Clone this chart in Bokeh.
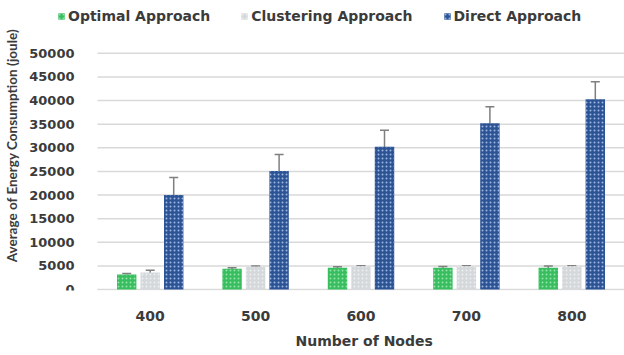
from bokeh.plotting import figure
from bokeh.models import (ColumnDataSource, Whisker, TeeHead, Legend, LegendItem,
                          Range1d, FixedTicker, Title)
from bokeh.transform import dodge
from bokeh.embed import file_html
from bokeh.resources import INLINE

# Average energy consumption per network size
nodes = ["400", "500", "600", "700", "800"]
optimal = [3200, 4400, 4600, 4600, 4600]
optimal_err = [200, 200, 200, 250, 350]
clustering = [3600, 4800, 4900, 4900, 4900]
clustering_err = [500, 200, 150, 150, 150]
direct = [20000, 25100, 30200, 35200, 40300]
direct_err = [3700, 3500, 3500, 3500, 3700]
y_ticks = list(range(0, 50001, 5000))

TEXT = "#3b3b3b"
FONT = "DejaVu Sans"
GRID = "#d9d9d9"

idx = list(range(len(nodes)))
src = ColumnDataSource(dict(
    idx=idx,
    opt=optimal, opt_lo=[v - e for v, e in zip(optimal, optimal_err)], opt_hi=[v + e for v, e in zip(optimal, optimal_err)],
    clu=clustering, clu_lo=[v - e for v, e in zip(clustering, clustering_err)], clu_hi=[v + e for v, e in zip(clustering, clustering_err)],
    dir=direct, dir_lo=[v - e for v, e in zip(direct, direct_err)], dir_hi=[v + e for v, e in zip(direct, direct_err)],
))

# canvas geometry: the plotting frame covers the whole width and reaches the top,
# so the legend can sit in the upper band; bars occupy the part right of LEFT_PX
W, H = 624, 355
LEFT_PX, TOP_PX, BOTTOM_PX, ZERO_PX = 97, 53, 64, 290
cat_px = (W - LEFT_PX) / len(nodes)
x_start = -0.5 - LEFT_PX / cat_px
x_end = len(nodes) - 0.5
frame_h = H - BOTTOM_PX
y_max = y_ticks[-1]
upp = y_max / (ZERO_PX - TOP_PX)
y_start = -(frame_h - ZERO_PX) * upp
y_end = y_max + TOP_PX * upp

p = figure(width=W, height=H, x_range=Range1d(x_start, x_end), y_range=Range1d(y_start, y_end),
           output_backend="svg", toolbar_location=None,
           min_border_left=0, min_border_right=0, min_border_top=0, min_border_bottom=BOTTOM_PX)
p.outline_line_color = None
p.xgrid.visible = False
p.ygrid.visible = False

# horizontal gridlines across the category area only
p.segment(x0=[idx[0] - 0.5] * len(y_ticks), x1=[idx[-1] + 0.5] * len(y_ticks),
          y0=y_ticks, y1=y_ticks, line_color=GRID, line_width=1.5, level="underlay")

off = 0.223
bw = 0.184
series = [
    ("opt", -off, "#38bd5f", "#93e2aa", "Optimal Approach"),
    ("clu", 0.0, "#d5d8db", "#eceef0", "Clustering Approach"),
    ("dir", off, "#2c5394", "#9db5e0", "Direct Approach"),
]
items = []
for key, dx, fill, hatch, label in series:
    r = p.vbar(x=dodge("idx", dx), top=key, width=bw, source=src,
               fill_color=fill, line_color=None, hatch_pattern="dot",
               hatch_color=hatch, hatch_scale=4, hatch_weight=3)
    items.append(LegendItem(label=label, renderers=[r]))

for key, dx, _, _, _ in series:
    w = Whisker(base=dodge("idx", dx), lower=f"{key}_lo", upper=f"{key}_hi",
                source=src, line_color="#7f7f7f", line_width=1.5,
                upper_head=TeeHead(size=9, line_color="#7f7f7f", line_width=1.5),
                lower_head=TeeHead(size=9, line_color="#7f7f7f", line_width=1.0, line_alpha=0.35))
    p.add_layout(w)

for ax in (p.xaxis[0], p.yaxis[0]):
    ax.major_tick_line_color = None
    ax.minor_tick_line_color = None
    ax.axis_line_color = None
    ax.major_label_text_font = FONT
    ax.major_label_text_font_style = "bold"
    ax.major_label_text_color = TEXT
    ax.axis_label_text_color = TEXT
    ax.axis_label_text_font_style = "bold"

# value axis pinned to the left edge of the category area
p.yaxis.fixed_location = idx[0] - 0.5
p.yaxis.ticker = FixedTicker(ticks=y_ticks)
p.yaxis.major_label_text_font_size = "13px"
p.yaxis.major_label_standoff = 17
p.yaxis.axis_label = "Average of Energy Consumption (joule)"
p.yaxis.axis_label_text_font = "Lato"
p.yaxis.axis_label_text_font_size = "13.5px"
p.yaxis.axis_label_standoff = 6

p.xaxis.ticker = FixedTicker(ticks=idx)
p.xaxis.major_label_overrides = {i: n for i, n in zip(idx, nodes)}
p.xaxis.major_label_text_font_size = "14px"
p.xaxis.major_label_standoff = 14

# category-axis title, centred under the bar area rather than the whole frame
x_title = Title(text="Number of Nodes", align="left", offset=295, standoff=14,
                vertical_align="bottom", text_font=FONT, text_font_size="14px",
                text_font_style="bold", text_color=TEXT)
p.add_layout(x_title, "below")

legend = Legend(items=items, orientation="horizontal", location=(57, frame_h - 25),
                glyph_width=8, glyph_height=8, label_standoff=3, spacing=30,
                padding=0, margin=0, border_line_color=None, background_fill_alpha=0,
                label_text_font=FONT, label_text_font_style="bold",
                label_text_font_size="14px", label_text_color=TEXT)
p.add_layout(legend, "center")

open("out.html", "w").write(file_html(p, INLINE))
